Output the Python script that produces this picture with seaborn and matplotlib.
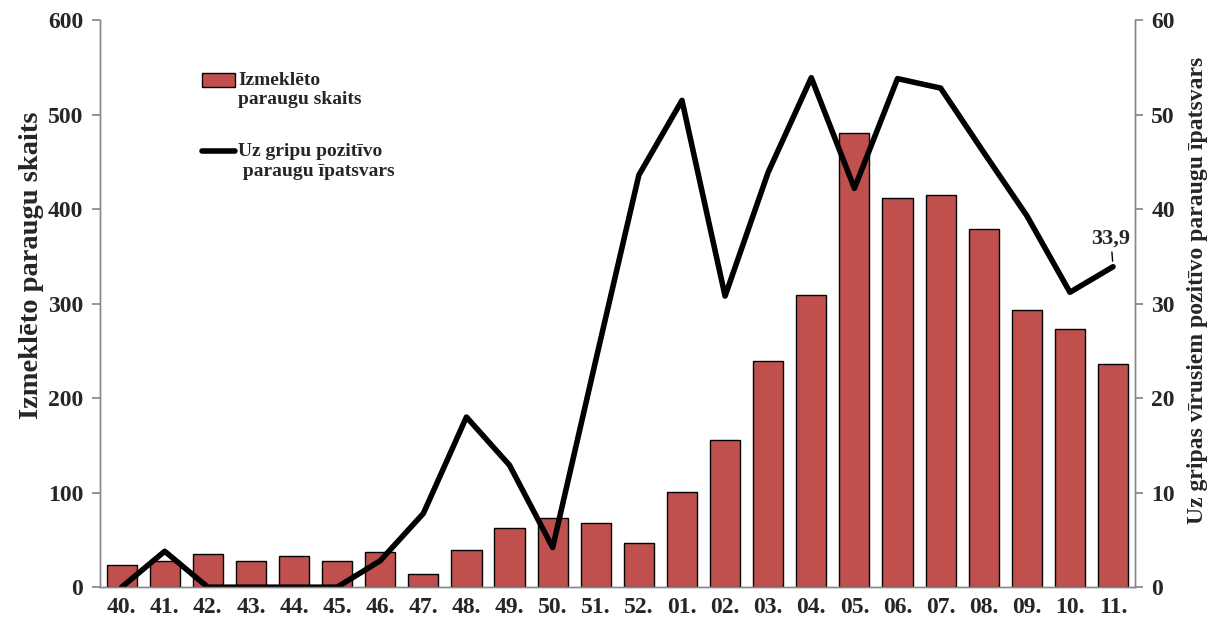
import numpy as np
import pandas as pd
import matplotlib
matplotlib.use("Agg")
import matplotlib.pyplot as plt
import seaborn as sns
from matplotlib.patches import Patch
from matplotlib.lines import Line2D
from matplotlib.legend_handler import HandlerPatch, HandlerLine2D
from matplotlib.transforms import Affine2D

weeks = ["40.", "41.", "42.", "43.", "44.", "45.", "46.", "47.", "48.", "49.", "50.", "51.",
         "52.", "01.", "02.", "03.", "04.", "05.", "06.", "07.", "08.", "09.", "10.", "11."]
samples = [23, 28, 35, 28, 33, 28, 37, 14, 39, 63, 73, 68,
           47, 101, 156, 239, 309, 481, 412, 415, 379, 293, 273, 236]
positive_pct = [0, 3.8, 0, 0, 0, 0, 2.8, 7.8, 18.0, 12.9, 4.2, 24.0,
                43.6, 51.5, 30.8, 43.9, 53.9, 42.2, 53.8, 52.8, 46.0, 39.3, 31.2, 33.9]

bar_label = "Izmeklēto\nparaugu skaits"
line_label = "Uz gripu pozitīvo\n paraugu īpatsvars"
left_ylabel = "Izmeklēto paraugu skaits"
right_ylabel = "Uz gripas vīrusiem pozitīvo paraugu īpatsvars"

sns.set_theme(style="white")
plt.rcParams['font.family'] = ['Liberation Serif', 'DejaVu Serif']
plt.rcParams['font.weight'] = 'bold'

df = pd.DataFrame({"week": weeks, "samples": samples, "pct": positive_pct})
df["pos"] = np.arange(len(weeks))

fig, ax = plt.subplots(figsize=(12.2, 6.26), dpi=100)
fig.subplots_adjust(left=0.082, right=0.930, top=0.968, bottom=0.062)

sns.barplot(data=df, x="week", y="samples", color="#C0504D", edgecolor="black",
            linewidth=1.0, width=0.7, saturation=1, ax=ax)
ax.set_xlim(-0.5, len(weeks) - 0.5)
ax.set_ylim(0, 600)
ax.set_yticks(range(0, 601, 100))

ax2 = ax.twinx()
sns.lineplot(data=df, x="pos", y="pct", color="black", linewidth=4.0, ax=ax2)
ax2.set_ylim(0, 60)
ax2.set_yticks(range(0, 61, 10))
ax2.set_xlim(-0.5, len(weeks) - 0.5)

gray = "#888888"
for a in (ax, ax2):
    a.spines["top"].set_visible(False)
    for s in ["left", "right", "bottom"]:
        a.spines[s].set_color(gray)
        a.spines[s].set_linewidth(1.0)

ax.set_xticks(np.arange(len(weeks)))
ax.set_xticklabels(weeks, fontsize=17, fontweight="bold")
ax.set_xticks(np.arange(-0.5, len(weeks)), minor=True)
ax.tick_params(axis="x", which="major", length=0, pad=7)
ax.tick_params(axis="x", which="minor", length=6, color=gray, direction="out")
ax.tick_params(axis="y", left=True, length=6, color=gray, labelsize=17, direction="out", pad=6)
ax2.tick_params(axis="y", right=True, length=6, color=gray, labelsize=17, direction="out", pad=6)
for lab in ax.get_yticklabels() + ax2.get_yticklabels():
    lab.set_fontweight("bold")

ax.set_xlabel("")
ax.set_ylabel(left_ylabel, fontsize=20.5, fontweight="bold")
ax.yaxis.set_label_coords(-0.054, 0.567)
ax2.set_xlabel("")
ax2.set_ylabel(right_ylabel, fontsize=17, fontweight="bold")
ax2.yaxis.set_label_coords(1.051, 0.523)

# last value annotation
last = len(weeks) - 1
ax2.annotate("33,9", xy=(last, positive_pct[-1]), xytext=(last - 0.05, positive_pct[-1] + 1.9),
             ha="center", va="bottom", fontsize=16, fontweight="bold",
             arrowprops=dict(arrowstyle="-", color="black", lw=1, shrinkA=0, shrinkB=4))


class UpPatch(HandlerPatch):
    def create_artists(self, legend, orig_handle, xdescent, ydescent, width, height, fontsize, trans):
        arts = super().create_artists(legend, orig_handle, xdescent, ydescent, width, height, fontsize, trans)
        for a in arts:
            a.set_transform(Affine2D().translate(0, 7) + trans)
        return arts


class UpLine(HandlerLine2D):
    def create_artists(self, legend, orig_handle, xdescent, ydescent, width, height, fontsize, trans):
        arts = super().create_artists(legend, orig_handle, xdescent, ydescent, width, height, fontsize, trans)
        for a in arts:
            a.set_transform(Affine2D().translate(0, 7) + trans)
        return arts


bar_handle = Patch(facecolor="#C0504D", edgecolor="black", label=bar_label)
line_handle = Line2D([0], [0], color="black", lw=4.0, label=line_label)
leg = ax.legend(handles=[bar_handle, line_handle], loc="upper left", bbox_to_anchor=(0.082, 0.94),
                frameon=False, prop={"size": 14, "weight": "bold"},
                handlelength=1.7, handletextpad=0.15, labelspacing=1.8,
                handler_map={Patch: UpPatch(), Line2D: UpLine()})

fig.savefig("out.png", dpi=100)
